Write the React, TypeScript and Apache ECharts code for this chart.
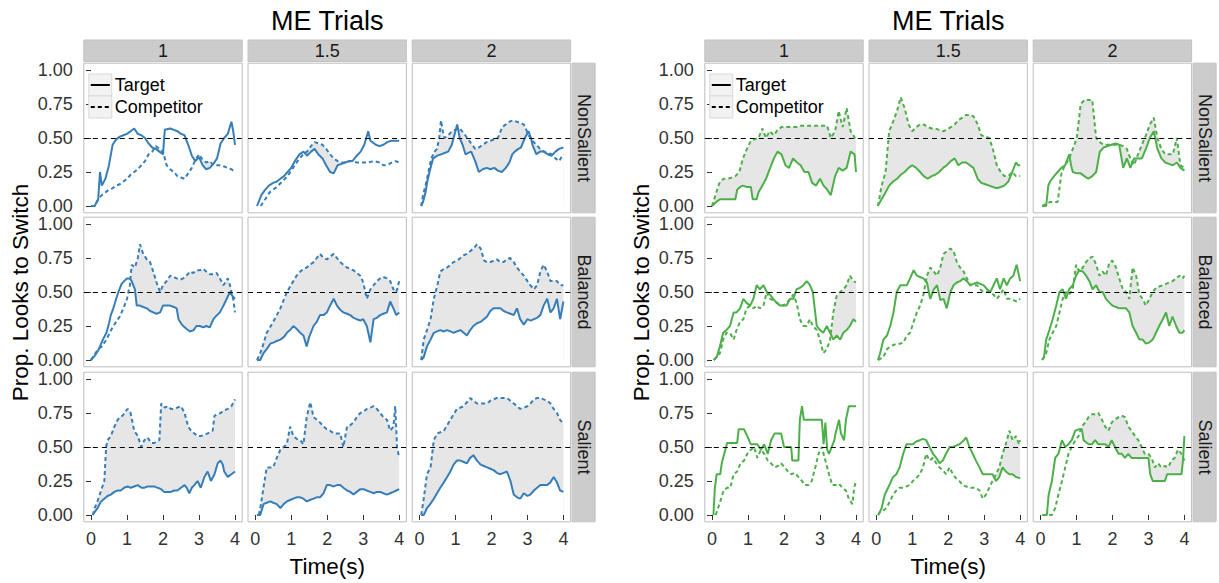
import React, { useEffect, useRef } from "react";
import * as echarts from "echarts";

// ---------- data (time in s, proportion) ----------
// Left panel (blue)
const lNs1T = [[0,0],[0.1,0],[0.2,0.05],[0.25,0.25],[0.3,0.15],[0.4,0.2],[0.5,0.3],[0.6,0.45],[0.7,0.49],[0.8,0.51],[0.9,0.52],[1.0,0.53],[1.1,0.55],[1.2,0.57],[1.3,0.53],[1.4,0.52],[1.5,0.5],[1.6,0.46],[1.7,0.43],[1.8,0.42],[1.9,0.4],[2.0,0.38],[2.05,0.56],[2.2,0.57],[2.3,0.56],[2.4,0.55],[2.5,0.53],[2.6,0.52],[2.7,0.45],[2.8,0.37],[2.9,0.33],[3.0,0.36],[3.1,0.3],[3.2,0.27],[3.3,0.28],[3.4,0.31],[3.5,0.35],[3.6,0.46],[3.7,0.5],[3.8,0.53],[3.9,0.62],[3.95,0.55],[4.0,0.45]];
const lNs1C = [[0,0],[0.1,0],[0.2,0.05],[0.3,0.08],[0.4,0.1],[0.5,0.12],[0.6,0.13],[0.7,0.15],[0.8,0.16],[0.9,0.18],[1.0,0.2],[1.1,0.23],[1.2,0.25],[1.3,0.27],[1.4,0.3],[1.5,0.33],[1.6,0.38],[1.7,0.4],[1.8,0.44],[1.9,0.42],[2.0,0.4],[2.1,0.3],[2.2,0.27],[2.3,0.25],[2.4,0.22],[2.5,0.21],[2.6,0.2],[2.7,0.24],[2.8,0.28],[2.9,0.34],[3.0,0.38],[3.1,0.34],[3.2,0.32],[3.3,0.33],[3.4,0.3],[3.5,0.3],[3.6,0.3],[3.7,0.29],[3.8,0.28],[3.9,0.27],[4.0,0.25]];
const lNs2T = [[0.05,0],[0.17,0.08],[0.28,0.12],[0.38,0.15],[0.5,0.17],[0.6,0.18],[0.7,0.2],[0.8,0.22],[0.9,0.25],[1.0,0.28],[1.1,0.33],[1.23,0.38],[1.34,0.4],[1.44,0.37],[1.55,0.4],[1.65,0.42],[1.75,0.38],[1.87,0.35],[1.97,0.3],[2.08,0.25],[2.18,0.24],[2.29,0.3],[2.4,0.31],[2.5,0.32],[2.6,0.33],[2.7,0.33],[2.82,0.37],[2.93,0.4],[3.03,0.45],[3.14,0.55],[3.2,0.48],[3.35,0.45],[3.45,0.44],[3.56,0.45],[3.67,0.47],[3.78,0.48],[3.9,0.48],[4.0,0.48]];
const lNs2C = [[0.15,0],[0.28,0.05],[0.4,0.1],[0.5,0.12],[0.6,0.14],[0.75,0.18],[0.9,0.22],[1.05,0.28],[1.23,0.35],[1.34,0.38],[1.44,0.4],[1.55,0.44],[1.65,0.47],[1.76,0.46],[1.87,0.45],[1.97,0.42],[2.08,0.38],[2.18,0.35],[2.29,0.33],[2.4,0.32],[2.5,0.32],[2.66,0.33],[2.82,0.32],[2.98,0.32],[3.14,0.32],[3.3,0.33],[3.46,0.32],[3.56,0.3],[3.67,0.3],[3.8,0.32],[3.9,0.33],[4.0,0.32]];
const lNs3T = [[0.05,0],[0.1,0.03],[0.17,0.1],[0.22,0.18],[0.28,0.25],[0.33,0.3],[0.38,0.35],[0.5,0.37],[0.6,0.38],[0.7,0.39],[0.8,0.4],[0.9,0.45],[1.0,0.55],[1.05,0.6],[1.12,0.5],[1.2,0.45],[1.28,0.38],[1.36,0.39],[1.44,0.4],[1.55,0.33],[1.65,0.25],[1.76,0.27],[1.87,0.28],[1.97,0.27],[2.08,0.28],[2.18,0.26],[2.29,0.25],[2.4,0.28],[2.5,0.32],[2.58,0.38],[2.65,0.4],[2.75,0.42],[2.82,0.43],[2.93,0.5],[3.03,0.55],[3.1,0.5],[3.14,0.45],[3.25,0.38],[3.35,0.4],[3.46,0.4],[3.56,0.38],[3.67,0.37],[3.78,0.4],[3.88,0.42],[4.0,0.43]];
const lNs3C = [[0.05,0],[0.1,0.08],[0.17,0.15],[0.25,0.25],[0.33,0.35],[0.42,0.4],[0.49,0.42],[0.55,0.5],[0.6,0.63],[0.65,0.55],[0.7,0.5],[0.8,0.52],[0.9,0.55],[1.0,0.56],[1.12,0.57],[1.22,0.54],[1.33,0.5],[1.44,0.46],[1.55,0.42],[1.65,0.43],[1.76,0.45],[1.87,0.47],[1.97,0.48],[2.08,0.49],[2.18,0.5],[2.3,0.58],[2.4,0.6],[2.5,0.62],[2.6,0.63],[2.7,0.62],[2.8,0.61],[2.9,0.6],[2.97,0.56],[3.03,0.52],[3.14,0.48],[3.25,0.45],[3.35,0.42],[3.46,0.4],[3.56,0.39],[3.67,0.38],[3.78,0.35],[3.88,0.33],[3.95,0.36],[4.0,0.38]];
const lBal1T = [[0,0],[0.1,0.03],[0.2,0.07],[0.25,0.1],[0.33,0.15],[0.43,0.2],[0.5,0.27],[0.55,0.33],[0.62,0.38],[0.7,0.45],[0.76,0.5],[0.85,0.56],[0.92,0.58],[1.0,0.6],[1.08,0.6],[1.13,0.58],[1.22,0.52],[1.27,0.4],[1.36,0.4],[1.45,0.39],[1.55,0.38],[1.64,0.36],[1.73,0.35],[1.82,0.34],[1.92,0.35],[2.0,0.4],[2.1,0.4],[2.2,0.4],[2.3,0.39],[2.38,0.38],[2.43,0.3],[2.5,0.27],[2.56,0.25],[2.65,0.23],[2.75,0.21],[2.85,0.22],[2.93,0.25],[3.02,0.25],[3.12,0.24],[3.2,0.25],[3.3,0.24],[3.4,0.3],[3.5,0.33],[3.58,0.35],[3.68,0.4],[3.77,0.45],[3.86,0.5],[3.93,0.47],[4.0,0.45]];
const lBal1C = [[0,0],[0.1,0.04],[0.2,0.08],[0.3,0.1],[0.43,0.15],[0.52,0.2],[0.62,0.25],[0.7,0.28],[0.8,0.32],[0.9,0.38],[1.0,0.45],[1.08,0.55],[1.13,0.7],[1.22,0.68],[1.3,0.75],[1.36,0.85],[1.45,0.78],[1.55,0.74],[1.64,0.72],[1.73,0.65],[1.82,0.57],[1.92,0.5],[2.0,0.55],[2.1,0.58],[2.2,0.62],[2.3,0.61],[2.38,0.6],[2.47,0.59],[2.56,0.6],[2.65,0.62],[2.75,0.65],[2.84,0.64],[2.93,0.66],[3.02,0.66],[3.12,0.67],[3.2,0.65],[3.3,0.63],[3.4,0.63],[3.49,0.64],[3.58,0.6],[3.68,0.55],[3.75,0.58],[3.8,0.6],[3.86,0.55],[3.9,0.5],[3.95,0.45],[4.0,0.35]];
const lBal2T = [[0.05,0],[0.14,0],[0.23,0.05],[0.32,0.08],[0.42,0.12],[0.52,0.13],[0.6,0.14],[0.7,0.15],[0.8,0.17],[0.88,0.2],[0.97,0.22],[1.06,0.25],[1.15,0.23],[1.25,0.2],[1.34,0.18],[1.43,0.1],[1.5,0.17],[1.62,0.25],[1.71,0.28],[1.8,0.33],[1.9,0.33],[1.99,0.35],[2.08,0.4],[2.18,0.45],[2.27,0.4],[2.36,0.37],[2.45,0.35],[2.55,0.34],[2.64,0.33],[2.73,0.31],[2.82,0.3],[2.92,0.29],[3.0,0.3],[3.1,0.25],[3.2,0.13],[3.29,0.3],[3.38,0.31],[3.47,0.33],[3.56,0.34],[3.66,0.35],[3.75,0.43],[3.84,0.38],[3.92,0.33],[4.0,0.35]];
const lBal2C = [[0.05,0],[0.14,0.05],[0.23,0.12],[0.32,0.2],[0.41,0.24],[0.5,0.28],[0.6,0.33],[0.7,0.38],[0.79,0.44],[0.88,0.5],[0.97,0.54],[1.06,0.58],[1.15,0.62],[1.25,0.65],[1.34,0.67],[1.43,0.68],[1.52,0.7],[1.62,0.72],[1.71,0.75],[1.8,0.78],[1.9,0.75],[1.99,0.74],[2.08,0.76],[2.18,0.78],[2.27,0.75],[2.36,0.72],[2.45,0.7],[2.55,0.68],[2.64,0.67],[2.73,0.66],[2.82,0.64],[2.92,0.62],[3.0,0.57],[3.1,0.45],[3.2,0.52],[3.29,0.55],[3.38,0.58],[3.47,0.6],[3.56,0.61],[3.66,0.6],[3.75,0.58],[3.84,0.52],[3.92,0.5],[4.0,0.58]];
const lBal3T = [[0.05,0],[0.12,0.02],[0.21,0.1],[0.31,0.15],[0.4,0.2],[0.49,0.21],[0.58,0.22],[0.68,0.21],[0.77,0.22],[0.86,0.21],[0.95,0.2],[1.04,0.21],[1.14,0.22],[1.23,0.2],[1.32,0.18],[1.41,0.22],[1.5,0.25],[1.6,0.27],[1.7,0.28],[1.79,0.3],[1.88,0.32],[1.97,0.36],[2.06,0.38],[2.15,0.38],[2.25,0.38],[2.34,0.36],[2.43,0.35],[2.53,0.34],[2.62,0.33],[2.71,0.38],[2.8,0.3],[2.9,0.26],[3.0,0.3],[3.09,0.29],[3.18,0.3],[3.27,0.31],[3.36,0.33],[3.45,0.4],[3.55,0.45],[3.64,0.35],[3.73,0.38],[3.82,0.45],[3.91,0.3],[4.0,0.43]];
const lBal3C = [[0.05,0],[0.12,0.15],[0.21,0.22],[0.31,0.3],[0.4,0.45],[0.5,0.55],[0.58,0.65],[0.68,0.67],[0.77,0.68],[0.86,0.7],[0.95,0.72],[1.04,0.73],[1.14,0.75],[1.23,0.77],[1.32,0.78],[1.41,0.8],[1.5,0.82],[1.6,0.85],[1.7,0.82],[1.8,0.73],[1.88,0.72],[1.97,0.72],[2.06,0.73],[2.15,0.74],[2.25,0.72],[2.34,0.72],[2.43,0.74],[2.52,0.75],[2.62,0.72],[2.71,0.68],[2.8,0.65],[2.9,0.62],[3.0,0.58],[3.08,0.55],[3.18,0.52],[3.27,0.55],[3.36,0.65],[3.45,0.7],[3.55,0.65],[3.64,0.58],[3.73,0.58],[3.82,0.58],[3.91,0.55],[4.0,0.55]];
const lSal1T = [[0.05,0],[0.1,0.02],[0.18,0.05],[0.28,0.1],[0.37,0.12],[0.46,0.14],[0.55,0.15],[0.65,0.17],[0.74,0.18],[0.83,0.18],[0.92,0.2],[1.02,0.21],[1.1,0.2],[1.2,0.21],[1.3,0.22],[1.4,0.2],[1.48,0.2],[1.57,0.21],[1.67,0.21],[1.76,0.21],[1.85,0.2],[1.95,0.19],[2.03,0.17],[2.13,0.17],[2.22,0.17],[2.31,0.18],[2.4,0.18],[2.5,0.2],[2.6,0.22],[2.66,0.2],[2.73,0.16],[2.8,0.2],[2.87,0.22],[2.96,0.25],[3.05,0.2],[3.15,0.28],[3.24,0.32],[3.33,0.25],[3.43,0.3],[3.52,0.38],[3.6,0.4],[3.66,0.37],[3.7,0.32],[3.8,0.28],[3.9,0.3],[4.0,0.32]];
const lSal1C = [[0.05,0],[0.1,0.05],[0.18,0.1],[0.28,0.18],[0.37,0.25],[0.42,0.5],[0.46,0.55],[0.55,0.58],[0.65,0.65],[0.74,0.7],[0.8,0.72],[0.88,0.73],[0.95,0.76],[1.02,0.78],[1.1,0.75],[1.2,0.62],[1.3,0.58],[1.4,0.5],[1.48,0.55],[1.57,0.57],[1.67,0.53],[1.76,0.53],[1.9,0.55],[1.95,0.82],[2.05,0.79],[2.13,0.8],[2.22,0.78],[2.31,0.78],[2.4,0.79],[2.5,0.8],[2.6,0.75],[2.7,0.65],[2.78,0.62],[2.87,0.6],[2.96,0.58],[3.05,0.58],[3.15,0.59],[3.24,0.6],[3.38,0.62],[3.43,0.73],[3.52,0.74],[3.6,0.75],[3.7,0.77],[3.8,0.78],[3.9,0.8],[4.0,0.85]];
const lSal2T = [[0.05,0],[0.14,0],[0.23,0.08],[0.32,0.09],[0.42,0.1],[0.5,0.09],[0.6,0.08],[0.7,0.05],[0.79,0.08],[0.88,0.1],[0.97,0.11],[1.06,0.12],[1.15,0.13],[1.25,0.13],[1.34,0.12],[1.43,0.1],[1.52,0.11],[1.62,0.12],[1.71,0.13],[1.8,0.13],[1.9,0.16],[1.99,0.22],[2.08,0.22],[2.18,0.21],[2.27,0.22],[2.36,0.22],[2.45,0.2],[2.55,0.18],[2.64,0.17],[2.73,0.15],[2.82,0.17],[2.92,0.19],[3.01,0.19],[3.1,0.18],[3.2,0.17],[3.29,0.16],[3.38,0.17],[3.47,0.17],[3.56,0.16],[3.66,0.15],[3.75,0.16],[3.84,0.17],[3.92,0.18],[4.0,0.19]];
const lSal2C = [[0.1,0],[0.14,0.05],[0.23,0.2],[0.32,0.35],[0.42,0.35],[0.5,0.35],[0.6,0.42],[0.7,0.48],[0.79,0.5],[0.88,0.52],[0.97,0.65],[1.06,0.58],[1.15,0.56],[1.25,0.55],[1.34,0.52],[1.43,0.72],[1.53,0.83],[1.62,0.72],[1.71,0.7],[1.8,0.68],[1.9,0.65],[1.99,0.63],[2.08,0.62],[2.18,0.6],[2.27,0.6],[2.36,0.6],[2.45,0.5],[2.55,0.65],[2.64,0.66],[2.73,0.68],[2.82,0.72],[2.92,0.75],[3.01,0.76],[3.1,0.78],[3.2,0.79],[3.29,0.8],[3.38,0.78],[3.47,0.75],[3.56,0.72],[3.66,0.7],[3.75,0.62],[3.84,0.65],[3.89,0.8],[3.94,0.5],[4.0,0.42]];
const lSal3T = [[0.05,0],[0.12,0],[0.21,0.05],[0.3,0.08],[0.4,0.12],[0.49,0.16],[0.58,0.2],[0.68,0.24],[0.77,0.28],[0.86,0.32],[0.95,0.37],[1.04,0.4],[1.14,0.4],[1.23,0.39],[1.32,0.38],[1.41,0.42],[1.5,0.44],[1.6,0.4],[1.7,0.37],[1.79,0.36],[1.88,0.35],[1.97,0.34],[2.06,0.33],[2.15,0.31],[2.25,0.3],[2.34,0.31],[2.43,0.32],[2.53,0.25],[2.62,0.15],[2.71,0.13],[2.8,0.12],[2.9,0.16],[3.0,0.14],[3.08,0.15],[3.18,0.18],[3.27,0.2],[3.36,0.22],[3.45,0.22],[3.55,0.22],[3.64,0.24],[3.73,0.28],[3.82,0.24],[3.91,0.18],[4.0,0.17]];
const lSal3C = [[0.05,0],[0.12,0.12],[0.21,0.3],[0.31,0.35],[0.4,0.55],[0.5,0.6],[0.6,0.61],[0.68,0.62],[0.77,0.66],[0.86,0.7],[0.95,0.74],[1.04,0.78],[1.14,0.79],[1.23,0.8],[1.32,0.83],[1.41,0.86],[1.5,0.84],[1.6,0.82],[1.7,0.82],[1.79,0.82],[1.88,0.82],[1.97,0.84],[2.06,0.85],[2.15,0.86],[2.25,0.86],[2.34,0.86],[2.43,0.86],[2.53,0.84],[2.62,0.82],[2.71,0.8],[2.8,0.78],[2.9,0.79],[3.0,0.8],[3.09,0.82],[3.18,0.85],[3.27,0.86],[3.36,0.86],[3.45,0.85],[3.55,0.84],[3.64,0.82],[3.73,0.78],[3.82,0.75],[3.91,0.7],[4.0,0.67]];

// Right panel (green)
const rNs1T = [[0,0],[0.12,0.03],[0.22,0.05],[0.33,0.05],[0.44,0.05],[0.55,0.05],[0.65,0.05],[0.7,0.12],[0.78,0.14],[0.86,0.15],[0.97,0.14],[1.08,0.14],[1.13,0.05],[1.24,0.05],[1.29,0.1],[1.4,0.15],[1.5,0.2],[1.6,0.27],[1.72,0.35],[1.82,0.4],[1.93,0.38],[2.04,0.3],[2.14,0.28],[2.25,0.35],[2.36,0.32],[2.46,0.3],[2.57,0.25],[2.68,0.25],[2.78,0.17],[2.89,0.15],[3.0,0.2],[3.1,0.15],[3.2,0.12],[3.3,0.08],[3.42,0.22],[3.52,0.28],[3.63,0.26],[3.74,0.28],[3.85,0.4],[3.96,0.38],[4.0,0.25]];
const rNs1C = [[0,0],[0.12,0.1],[0.22,0.18],[0.33,0.2],[0.44,0.2],[0.55,0.21],[0.65,0.22],[0.76,0.25],[0.86,0.35],[0.97,0.42],[1.08,0.48],[1.18,0.49],[1.29,0.5],[1.4,0.57],[1.5,0.5],[1.6,0.55],[1.72,0.52],[1.82,0.56],[1.93,0.58],[2.04,0.58],[2.14,0.58],[2.25,0.58],[2.36,0.58],[2.46,0.59],[2.57,0.59],[2.68,0.59],[2.78,0.59],[2.89,0.59],[3.0,0.59],[3.1,0.59],[3.2,0.59],[3.3,0.5],[3.42,0.55],[3.52,0.7],[3.63,0.58],[3.74,0.72],[3.85,0.55],[3.93,0.52],[4.0,0.48]];
const rNs2T = [[0.04,0],[0.15,0.05],[0.26,0.1],[0.36,0.15],[0.47,0.18],[0.58,0.2],[0.68,0.23],[0.79,0.25],[0.9,0.28],[1.0,0.3],[1.11,0.28],[1.22,0.25],[1.32,0.22],[1.43,0.2],[1.54,0.22],[1.64,0.23],[1.75,0.25],[1.86,0.28],[1.96,0.3],[2.07,0.33],[2.18,0.35],[2.28,0.3],[2.39,0.32],[2.5,0.32],[2.6,0.3],[2.7,0.28],[2.82,0.2],[2.92,0.17],[3.03,0.16],[3.14,0.15],[3.24,0.14],[3.35,0.13],[3.46,0.14],[3.56,0.15],[3.67,0.18],[3.78,0.25],[3.88,0.32],[3.94,0.3],[4.0,0.3]];
const rNs2C = [[0.05,0],[0.15,0.15],[0.26,0.25],[0.36,0.55],[0.47,0.62],[0.58,0.7],[0.68,0.8],[0.79,0.72],[0.9,0.6],[1.0,0.55],[1.11,0.58],[1.22,0.6],[1.32,0.6],[1.43,0.58],[1.54,0.57],[1.64,0.57],[1.75,0.56],[1.86,0.55],[1.96,0.56],[2.07,0.58],[2.18,0.6],[2.28,0.63],[2.39,0.65],[2.5,0.67],[2.6,0.67],[2.7,0.66],[2.82,0.6],[2.92,0.52],[3.03,0.51],[3.14,0.5],[3.24,0.42],[3.35,0.3],[3.46,0.25],[3.56,0.22],[3.67,0.22],[3.78,0.25],[3.88,0.22],[4.0,0.22]];
const rNs3T = [[0.05,0],[0.16,0],[0.22,0.15],[0.27,0.18],[0.38,0.22],[0.48,0.25],[0.58,0.28],[0.69,0.3],[0.8,0.38],[0.85,0.3],[0.9,0.25],[1.01,0.24],[1.12,0.24],[1.22,0.22],[1.33,0.2],[1.44,0.22],[1.55,0.25],[1.65,0.4],[1.76,0.43],[1.87,0.44],[1.97,0.45],[2.08,0.46],[2.19,0.45],[2.3,0.28],[2.4,0.35],[2.5,0.28],[2.6,0.35],[2.71,0.35],[2.82,0.35],[2.93,0.42],[3.04,0.5],[3.15,0.55],[3.25,0.42],[3.36,0.35],[3.47,0.32],[3.57,0.31],[3.68,0.3],[3.79,0.32],[3.89,0.28],[4.0,0.26]];
const rNs3C = [[0.05,0],[0.27,0.03],[0.48,0.03],[0.59,0.25],[0.69,0.3],[0.8,0.35],[0.9,0.42],[1.01,0.5],[1.12,0.75],[1.23,0.78],[1.33,0.78],[1.44,0.78],[1.55,0.5],[1.65,0.47],[1.76,0.45],[1.87,0.45],[1.97,0.45],[2.08,0.45],[2.19,0.45],[2.3,0.44],[2.4,0.42],[2.5,0.35],[2.6,0.3],[2.71,0.38],[2.82,0.45],[2.93,0.52],[3.04,0.6],[3.15,0.65],[3.25,0.5],[3.36,0.42],[3.47,0.38],[3.57,0.38],[3.68,0.38],[3.79,0.5],[3.89,0.3],[4.0,0.28]];
const rBal1T = [[0.05,0],[0.13,0.02],[0.22,0.1],[0.31,0.2],[0.4,0.22],[0.5,0.25],[0.6,0.35],[0.68,0.35],[0.78,0.38],[0.87,0.45],[0.96,0.42],[1.06,0.4],[1.15,0.45],[1.24,0.55],[1.33,0.52],[1.43,0.55],[1.52,0.5],[1.61,0.48],[1.7,0.45],[1.8,0.42],[1.89,0.4],[1.98,0.4],[2.07,0.4],[2.17,0.45],[2.26,0.45],[2.35,0.52],[2.44,0.53],[2.54,0.55],[2.63,0.58],[2.72,0.55],[2.8,0.5],[2.91,0.25],[3.0,0.22],[3.09,0.2],[3.19,0.25],[3.28,0.2],[3.37,0.15],[3.46,0.18],[3.56,0.15],[3.65,0.2],[3.74,0.22],[3.83,0.25],[3.93,0.3],[4.0,0.28]];
const rBal1C = [[0.05,0],[0.22,0.05],[0.31,0.15],[0.4,0.2],[0.5,0.2],[0.6,0.15],[0.68,0.22],[0.78,0.28],[0.87,0.3],[0.96,0.38],[1.06,0.4],[1.15,0.38],[1.24,0.4],[1.33,0.38],[1.43,0.4],[1.52,0.5],[1.61,0.45],[1.7,0.44],[1.8,0.42],[1.89,0.41],[1.98,0.4],[2.07,0.42],[2.17,0.45],[2.26,0.48],[2.35,0.42],[2.44,0.3],[2.54,0.25],[2.63,0.25],[2.72,0.3],[2.8,0.25],[2.91,0.22],[3.0,0.15],[3.09,0.05],[3.19,0.08],[3.28,0.15],[3.37,0.35],[3.46,0.47],[3.56,0.5],[3.65,0.52],[3.74,0.55],[3.83,0.62],[3.93,0.58],[4.0,0.57]];
const rBal2T = [[0.05,0],[0.11,0.05],[0.2,0.15],[0.3,0.18],[0.39,0.25],[0.48,0.35],[0.57,0.5],[0.67,0.55],[0.76,0.55],[0.85,0.55],[0.94,0.6],[1.04,0.66],[1.13,0.62],[1.22,0.61],[1.31,0.6],[1.41,0.57],[1.5,0.45],[1.6,0.52],[1.69,0.55],[1.78,0.44],[1.87,0.45],[1.96,0.38],[2.06,0.5],[2.15,0.55],[2.24,0.57],[2.33,0.58],[2.43,0.6],[2.52,0.58],[2.61,0.55],[2.7,0.56],[2.8,0.57],[2.89,0.56],[2.98,0.55],[3.08,0.52],[3.17,0.5],[3.26,0.55],[3.35,0.6],[3.44,0.52],[3.54,0.6],[3.63,0.55],[3.72,0.6],[3.81,0.62],[3.9,0.7],[4.0,0.58]];
const rBal2C = [[0.05,0],[0.2,0.02],[0.3,0.08],[0.39,0.1],[0.48,0.11],[0.57,0.12],[0.67,0.12],[0.76,0.13],[0.85,0.18],[0.94,0.2],[1.04,0.28],[1.13,0.35],[1.22,0.4],[1.31,0.48],[1.41,0.62],[1.5,0.68],[1.6,0.65],[1.69,0.62],[1.78,0.68],[1.87,0.78],[1.96,0.8],[2.06,0.82],[2.15,0.8],[2.24,0.72],[2.33,0.68],[2.43,0.65],[2.52,0.6],[2.61,0.55],[2.7,0.55],[2.8,0.55],[2.89,0.52],[2.98,0.5],[3.08,0.5],[3.17,0.5],[3.26,0.48],[3.35,0.45],[3.44,0.48],[3.54,0.52],[3.63,0.45],[3.72,0.45],[3.81,0.44],[3.9,0.43],[4.0,0.45]];
const rBal3T = [[0.05,0],[0.1,0.02],[0.16,0.15],[0.25,0.22],[0.34,0.3],[0.44,0.4],[0.53,0.5],[0.62,0.52],[0.71,0.45],[0.8,0.52],[0.9,0.55],[0.99,0.62],[1.08,0.66],[1.18,0.65],[1.27,0.62],[1.36,0.58],[1.45,0.52],[1.55,0.55],[1.64,0.5],[1.73,0.5],[1.82,0.45],[1.92,0.42],[2.0,0.4],[2.1,0.39],[2.19,0.38],[2.29,0.38],[2.38,0.38],[2.47,0.35],[2.56,0.25],[2.66,0.2],[2.75,0.15],[2.84,0.15],[2.93,0.12],[3.03,0.13],[3.12,0.15],[3.21,0.2],[3.3,0.25],[3.4,0.3],[3.49,0.35],[3.58,0.25],[3.67,0.32],[3.77,0.25],[3.86,0.2],[3.95,0.2],[4.0,0.22]];
const rBal3C = [[0.05,0],[0.16,0.05],[0.25,0.15],[0.34,0.2],[0.44,0.25],[0.53,0.35],[0.62,0.45],[0.71,0.5],[0.8,0.48],[0.9,0.52],[0.99,0.7],[1.08,0.65],[1.18,0.68],[1.27,0.72],[1.36,0.75],[1.45,0.76],[1.55,0.7],[1.64,0.62],[1.73,0.65],[1.82,0.62],[1.92,0.72],[2.0,0.73],[2.1,0.68],[2.19,0.6],[2.29,0.52],[2.38,0.5],[2.47,0.45],[2.56,0.68],[2.66,0.62],[2.75,0.48],[2.84,0.45],[2.93,0.4],[3.03,0.45],[3.12,0.5],[3.21,0.53],[3.3,0.54],[3.4,0.55],[3.49,0.56],[3.58,0.57],[3.67,0.58],[3.77,0.6],[3.86,0.62],[3.95,0.6],[4.0,0.62]];
const rSal1T = [[0.04,0],[0.08,0.2],[0.13,0.3],[0.23,0.3],[0.27,0.38],[0.42,0.53],[0.7,0.53],[0.74,0.63],[0.89,0.63],[0.98,0.58],[1.08,0.52],[1.26,0.52],[1.36,0.48],[1.45,0.52],[1.55,0.45],[1.64,0.55],[1.74,0.6],[1.92,0.6],[2.0,0.5],[2.2,0.5],[2.23,0.4],[2.4,0.4],[2.44,0.7],[2.5,0.8],[2.55,0.7],[3.05,0.7],[3.1,0.52],[3.15,0.68],[3.2,0.48],[3.25,0.45],[3.4,0.55],[3.43,0.6],[3.53,0.7],[3.58,0.6],[3.67,0.55],[3.72,0.7],[3.8,0.8],[4.0,0.8]];
const rSal1C = [[0.1,0],[0.13,0.02],[0.23,0.1],[0.32,0.18],[0.42,0.2],[0.51,0.2],[0.6,0.3],[0.7,0.32],[0.79,0.38],[0.89,0.4],[0.98,0.45],[1.08,0.48],[1.17,0.5],[1.26,0.42],[1.36,0.48],[1.45,0.45],[1.55,0.4],[1.64,0.38],[1.74,0.35],[1.83,0.36],[1.92,0.38],[2.02,0.35],[2.11,0.32],[2.2,0.3],[2.3,0.31],[2.4,0.28],[2.5,0.25],[2.58,0.22],[2.68,0.22],[2.77,0.25],[2.87,0.35],[2.96,0.45],[3.05,0.5],[3.15,0.4],[3.25,0.3],[3.34,0.22],[3.43,0.22],[3.53,0.23],[3.62,0.2],[3.72,0.18],[3.8,0.12],[3.9,0.08],[3.95,0.2],[4.0,0.25]];
const rSal2T = [[0.06,0],[0.15,0.05],[0.24,0.15],[0.33,0.2],[0.47,0.28],[0.56,0.3],[0.65,0.35],[0.75,0.45],[0.84,0.52],[0.93,0.52],[1.02,0.52],[1.11,0.54],[1.21,0.55],[1.3,0.56],[1.39,0.55],[1.48,0.5],[1.58,0.45],[1.67,0.42],[1.76,0.38],[1.85,0.4],[1.94,0.45],[2.04,0.5],[2.13,0.5],[2.22,0.51],[2.31,0.52],[2.4,0.54],[2.5,0.57],[2.59,0.5],[2.68,0.45],[2.77,0.4],[2.87,0.35],[2.96,0.3],[3.05,0.3],[3.14,0.3],[3.23,0.3],[3.33,0.25],[3.42,0.28],[3.51,0.35],[3.6,0.32],[3.7,0.3],[3.79,0.3],[3.88,0.28],[4.0,0.27]];
const rSal2C = [[0.05,0],[0.1,0.02],[0.19,0.03],[0.28,0.05],[0.38,0.1],[0.47,0.15],[0.56,0.18],[0.65,0.2],[0.75,0.2],[0.84,0.21],[0.93,0.22],[1.02,0.25],[1.11,0.27],[1.21,0.3],[1.3,0.35],[1.39,0.45],[1.48,0.4],[1.58,0.42],[1.67,0.38],[1.76,0.35],[1.85,0.33],[1.94,0.3],[2.04,0.35],[2.13,0.3],[2.22,0.27],[2.31,0.25],[2.4,0.22],[2.5,0.21],[2.59,0.2],[2.68,0.2],[2.77,0.2],[2.87,0.18],[2.96,0.12],[3.05,0.15],[3.14,0.2],[3.23,0.25],[3.33,0.3],[3.42,0.35],[3.51,0.45],[3.6,0.52],[3.7,0.62],[3.79,0.55],[3.88,0.58],[3.97,0.52],[4.0,0.55]];
const rSal3T = [[0.05,0],[0.18,0],[0.23,0.15],[0.32,0.25],[0.41,0.42],[0.5,0.45],[0.6,0.55],[0.69,0.5],[0.78,0.52],[0.87,0.55],[0.97,0.62],[1.06,0.63],[1.15,0.63],[1.2,0.55],[1.34,0.52],[1.43,0.52],[1.52,0.55],[1.61,0.52],[1.71,0.52],[1.8,0.52],[1.89,0.5],[1.98,0.55],[2.07,0.5],[2.17,0.45],[2.26,0.45],[2.35,0.42],[2.44,0.45],[2.53,0.42],[2.63,0.42],[2.72,0.42],[2.81,0.42],[2.9,0.42],[3.0,0.42],[3.05,0.3],[3.12,0.25],[3.27,0.25],[3.36,0.25],[3.46,0.25],[3.52,0.3],[3.73,0.3],[3.92,0.3],[3.96,0.4],[4.0,0.58]];
const rSal3C = [[0.05,0],[0.32,0],[0.41,0.05],[0.5,0.15],[0.6,0.25],[0.69,0.35],[0.78,0.45],[0.87,0.5],[0.97,0.55],[1.06,0.58],[1.15,0.65],[1.24,0.68],[1.34,0.72],[1.43,0.74],[1.52,0.74],[1.61,0.75],[1.71,0.7],[1.8,0.65],[1.89,0.62],[1.98,0.68],[2.07,0.7],[2.17,0.72],[2.26,0.73],[2.35,0.72],[2.44,0.65],[2.53,0.62],[2.63,0.58],[2.72,0.55],[2.81,0.5],[2.9,0.45],[3.0,0.45],[3.09,0.42],[3.18,0.35],[3.27,0.38],[3.36,0.35],[3.46,0.36],[3.55,0.35],[3.64,0.4],[3.73,0.42],[3.82,0.48],[3.92,0.45],[4.0,0.4]];

const rowLabels = ["NonSalient", "Balanced", "Salient"];
const colLabels = ["1", "1.5", "2"];
const yTicks = [0, 0.25, 0.5, 0.75, 1];
const xTicks = [0, 1, 2, 3, 4];
const chartTitle = "ME Trials";
const yTitle = "Prop. Looks to Switch";
const xTitle = "Time(s)";
const legendLabels = ["Target", "Competitor"];
const chanceLevel = 0.5;

const leftTargets = [[lNs1T, lNs2T, lNs3T], [lBal1T, lBal2T, lBal3T], [lSal1T, lSal2T, lSal3T]];
const leftComps = [[lNs1C, lNs2C, lNs3C], [lBal1C, lBal2C, lBal3C], [lSal1C, lSal2C, lSal3C]];
const rightTargets = [[rNs1T, rNs2T, rNs3T], [rBal1T, rBal2T, rBal3T], [rSal1T, rSal2T, rSal3T]];
const rightComps = [[rNs1C, rNs2C, rNs3C], [rBal1C, rBal2C, rBal3C], [rSal1C, rSal2C, rSal3C]];

// ---------- layout ----------
const FONT = '"Liberation Sans", Arial, Helvetica, sans-serif';
const PANEL_W = 158.4;
const PANEL_H = 149.6;
const COL_STEP = 164.2;
const ROW_TOPS = [63.2, 217.2, 372.2];
const panels = [
  { x0: 83.8, color: "#377EB8", targets: leftTargets, comps: leftComps },
  { x0: 704.8, color: "#4DAF4A", targets: rightTargets, comps: rightComps },
];

function buildOption() {
  const grid: any[] = [];
  const xAxis: any[] = [];
  const yAxis: any[] = [];
  const series: any[] = [];
  const graphic: any[] = [];

  panels.forEach((p) => {
    const midX = p.x0 + (COL_STEP * 2 + PANEL_W) / 2;
    const lastRight = p.x0 + COL_STEP * 2 + PANEL_W;
    // title
    graphic.push({
      type: "text", x: midX, y: 21, z: 10,
      style: { text: chartTitle, font: `27px ${FONT}`, fill: "#000", align: "center", verticalAlign: "middle" },
    });
    // y title
    graphic.push({
      type: "text", x: p.x0 - 63, y: (ROW_TOPS[0] + ROW_TOPS[2] + PANEL_H) / 2, rotation: Math.PI / 2, z: 10,
      style: { text: yTitle, font: `22.5px ${FONT}`, fill: "#000", align: "center", verticalAlign: "middle" },
    });
    // x title
    graphic.push({
      type: "text", x: midX, y: 566, z: 10,
      style: { text: xTitle, font: `22.5px ${FONT}`, fill: "#000", align: "center", verticalAlign: "middle" },
    });
    // top strips
    colLabels.forEach((lab, c) => {
      const left = p.x0 + c * COL_STEP;
      graphic.push({
        type: "rect", shape: { x: left, y: 40, width: PANEL_W, height: 21.5 }, z: 5,
        style: { fill: "#CCCCCC", stroke: "#C2C2C2", lineWidth: 1 },
      });
      graphic.push({
        type: "text", x: left + PANEL_W / 2, y: 51, z: 10,
        style: { text: lab, font: `18px ${FONT}`, fill: "#1A1A1A", align: "center", verticalAlign: "middle" },
      });
    });
    // right strips
    rowLabels.forEach((lab, r) => {
      graphic.push({
        type: "rect", shape: { x: lastRight + 1.5, y: ROW_TOPS[r], width: 23, height: PANEL_H }, z: 5,
        style: { fill: "#CCCCCC", stroke: "#C2C2C2", lineWidth: 1 },
      });
      graphic.push({
        type: "text", x: lastRight + 13, y: ROW_TOPS[r] + PANEL_H / 2, rotation: -Math.PI / 2, z: 10,
        style: { text: lab, font: `18px ${FONT}`, fill: "#1A1A1A", align: "center", verticalAlign: "middle" },
      });
    });
    // legend
    legendLabels.forEach((lab, i) => {
      const ky = 74 + i * 22;
      graphic.push({
        type: "rect", shape: { x: p.x0 + 5, y: ky, width: 23, height: 22 }, z: 20,
        style: { fill: "#F2F2F2", stroke: "#D9D9D9", lineWidth: 1 },
      });
      graphic.push({
        type: "line", shape: { x1: p.x0 + 7, y1: ky + 11, x2: p.x0 + 26, y2: ky + 11 }, z: 21,
        style: { stroke: "#000", lineWidth: 2, lineDash: i === 0 ? null : [4, 3] },
      });
      graphic.push({
        type: "text", x: p.x0 + 31, y: ky + 11, z: 21,
        style: { text: lab, font: `18px ${FONT}`, fill: "#000", align: "left", verticalAlign: "middle" },
      });
    });

    for (let r = 0; r < 3; r++) {
      for (let c = 0; c < 3; c++) {
        const idx = grid.length;
        grid.push({
          left: p.x0 + c * COL_STEP, top: ROW_TOPS[r], width: PANEL_W, height: PANEL_H,
          show: true, borderColor: "#BDBDBD", borderWidth: 1, backgroundColor: "#FFFFFF",
        });
        xAxis.push({
          type: "value", gridIndex: idx, min: -0.2, max: 4.2,
          axisLine: { show: false }, splitLine: { show: false },
          axisTick: { show: r === 2, length: 5, customValues: xTicks, lineStyle: { color: "#333", width: 1 } },
          axisLabel: {
            show: r === 2, customValues: xTicks, margin: 8, fontSize: 18, color: "#333", fontFamily: FONT,
            formatter: (v: number) => String(v),
          },
        });
        yAxis.push({
          type: "value", gridIndex: idx, min: -0.05, max: 1.05,
          axisLine: { show: false }, splitLine: { show: false },
          axisTick: { show: c === 0, length: 5, customValues: yTicks, lineStyle: { color: "#333", width: 1 } },
          axisLabel: {
            show: c === 0, customValues: yTicks, margin: 11, fontSize: 18, color: "#333", fontFamily: FONT,
            formatter: (v: number) => v.toFixed(2),
          },
        });
        const tgt = p.targets[r][c];
        const cmp = p.comps[r][c];
        const common = { xAxisIndex: idx, yAxisIndex: idx, symbol: "none", showSymbol: false, silent: true, clip: true };
        // grey fill under competitor, then white fill under target -> grey only where competitor > target
        series.push({
          ...common, type: "line", data: cmp, z: 1,
          lineStyle: { width: 0, opacity: 0 }, areaStyle: { color: "#E6E6E6", opacity: 1 },
        });
        series.push({
          ...common, type: "line", data: tgt, z: 2,
          lineStyle: { width: 0, opacity: 0 }, areaStyle: { color: "#FFFFFF", opacity: 1 },
        });
        series.push({
          ...common, type: "line", data: cmp, z: 3,
          lineStyle: { width: 2, color: p.color, type: [4, 3] },
        });
        series.push({
          ...common, type: "line", data: tgt, z: 4,
          lineStyle: { width: 2, color: p.color },
          markLine: {
            silent: true, symbol: "none", animation: false,
            label: { show: false },
            lineStyle: { color: "#000", type: [5, 4], width: 1.2 },
            data: [{ yAxis: chanceLevel }],
          },
        });
      }
    }
  });

  return {
    animation: false,
    backgroundColor: "#FFFFFF",
    textStyle: { fontFamily: FONT },
    grid, xAxis, yAxis, series, graphic,
  };
}

export default function App() {
  const ref = useRef<HTMLDivElement>(null);
  useEffect(() => {
    if (!ref.current) return;
    const chart = echarts.init(ref.current, null, { renderer: "svg" });
    chart.setOption(buildOption() as any);
    return () => chart.dispose();
  }, []);
  return (
    <div
      ref={ref}
      style={{ position: "absolute", left: 0, top: 0, width: 1219, height: 583, background: "#fff" }}
    />
  );
}
